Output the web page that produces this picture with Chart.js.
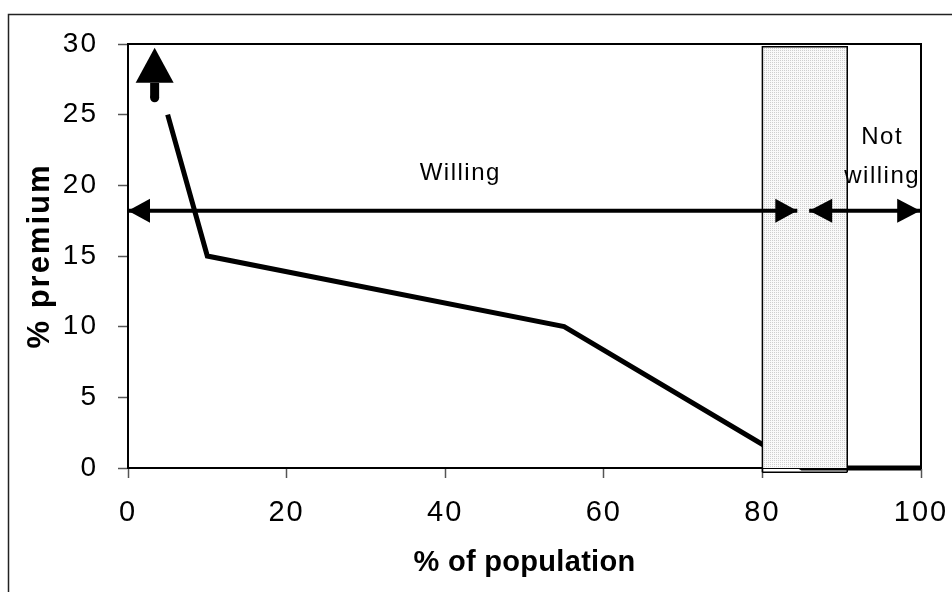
<!DOCTYPE html>
<html>
<head>
<meta charset="utf-8">
<script src="https://cdn.jsdelivr.net/npm/chart.js@4.4.1/dist/chart.umd.min.js"></script>
<style>
html, body { margin: 0; padding: 0; background: #fff; }
canvas { display: block; }
</style>
</head>
<body>
<canvas id="premiumChart" width="952" height="592"></canvas>
<script>
// values
const xTickValues = [0, 20, 40, 60, 80, 100];
const yTickValues = [0, 5, 10, 15, 20, 25, 30];
const curveX = [5, 10, 55, 85, 100];
const curveY = [25, 15, 10, 0, 0];
const boxX = [80, 80, 90.7, 90.7];
const boxY = [-0.3, 29.8, 29.8, -0.3];
const willingX = [0, 84.4];
const notWillingX = [85.9, 99.9];
const arrowY = [18.2, 18.2];
const upArrowX = [3.36, 3.36];
const upArrowY = [26.2, 27.25];

const FONT = 'Arial, "Liberation Sans", sans-serif';

function pts(xs, ys) {
	return xs.map((x, i) => ({ x: x, y: ys[i] }));
}

// light stipple for the grey band
const tile = document.createElement('canvas');
tile.width = 2;
tile.height = 2;
const tctx = tile.getContext('2d');
tctx.fillStyle = '#fafafa';
tctx.fillRect(0, 0, 2, 2);
tctx.fillStyle = '#cfcfcf';
tctx.fillRect(0, 0, 1, 1);
const stipple = tctx.createPattern(tile, 'repeat');

function drawHead(ctx, tx, ty, fx, fy, len, half) {
	const dx = tx - fx, dy = ty - fy;
	const d = Math.hypot(dx, dy);
	const ux = dx / d, uy = dy / d;
	const bx = tx - ux * len, by = ty - uy * len;
	ctx.beginPath();
	ctx.moveTo(tx, ty);
	ctx.lineTo(bx - uy * half, by + ux * half);
	ctx.lineTo(bx + uy * half, by - ux * half);
	ctx.closePath();
	ctx.fill();
}

// titles get their own letter spacing
function spacedTitle(s, spacing) {
	if (s._spaced) return;
	const orig = s.drawTitle;
	s.drawTitle = function() {
		const c = this.ctx;
		const prev = c.letterSpacing;
		c.letterSpacing = spacing;
		orig.call(this);
		c.letterSpacing = prev;
	};
	s._spaced = true;
}

const extras = {
	id: 'extras',
	beforeDraw(chart) {
		const ctx = chart.ctx;
		ctx.save();
		ctx.strokeStyle = '#222';
		ctx.lineWidth = 1.5;
		ctx.strokeRect(8.5, 14.5, 2000, 2000);
		ctx.restore();
		ctx.letterSpacing = '2px';
	},
	afterDatasetsDraw(chart, args, opts) {
		const ctx = chart.ctx;
		const xs = chart.scales.x, ys = chart.scales.y;
		ctx.save();
		ctx.fillStyle = '#000';
		chart.data.datasets.forEach((ds, i) => {
			if (!ds.heads) return;
			const p = chart.getDatasetMeta(i).data;
			const a = p[0], b = p[p.length - 1];
			if (ds.heads === 'ahead') {
				// head sits in front of the shaft end
				const d = Math.hypot(b.x - a.x, b.y - a.y);
				const tx = b.x + (b.x - a.x) / d * ds.headLen;
				const ty = b.y + (b.y - a.y) / d * ds.headLen;
				drawHead(ctx, tx, ty, a.x, a.y, ds.headLen, ds.headHalf);
			} else {
				drawHead(ctx, b.x, b.y, a.x, a.y, ds.headLen, ds.headHalf);
				if (ds.heads === 'both') drawHead(ctx, a.x, a.y, b.x, b.y, ds.headLen, ds.headHalf);
			}
			if (ds.roundStart) {
				ctx.beginPath();
				ctx.arc(a.x, a.y, ds.borderWidth / 2, 0, Math.PI * 2);
				ctx.fill();
			}
		});
		ctx.letterSpacing = '1.5px';
		ctx.font = '24px ' + FONT;
		ctx.textAlign = 'center';
		ctx.textBaseline = 'alphabetic';
		opts.notes.forEach(n => {
			ctx.fillText(n.text, xs.getPixelForValue(n.x), ys.getPixelForValue(n.y));
		});
		ctx.restore();
	},
	afterDraw(chart) {
		const ctx = chart.ctx;
		const a = chart.chartArea;
		ctx.save();
		ctx.strokeStyle = '#000';
		ctx.lineWidth = 2;
		ctx.beginPath();
		ctx.moveTo(a.left, a.top);
		ctx.lineTo(a.right, a.top);
		ctx.lineTo(a.right, a.bottom);
		ctx.stroke();
		ctx.restore();
	}
};

new Chart(document.getElementById('premiumChart'), {
	type: 'line',
	data: {
		datasets: [{
			// grey band
			data: pts(boxX, boxY),
			borderColor: '#000',
			borderWidth: 1.5,
			backgroundColor: stipple,
			fill: { value: -0.3 },
			pointRadius: 0,
			tension: 0,
			clip: 8,
			order: 0
		}, {
			// band base, just under the axis
			data: pts([boxX[0], boxX[3]], [boxY[0], boxY[3]]),
			borderColor: '#000',
			borderWidth: 1.5,
			pointRadius: 0,
			clip: 8,
			order: 0
		}, {
			data: pts(curveX, curveY),
			borderColor: '#000',
			borderWidth: 5,
			pointRadius: 0,
			tension: 0,
			borderJoinStyle: 'miter',
			clip: 4,
			order: 1
		}, {
			data: pts(willingX, arrowY),
			borderColor: '#000',
			borderWidth: 4,
			pointRadius: 0,
			heads: 'both',
			headLen: 22,
			headHalf: 12,
			order: -1
		}, {
			data: pts(notWillingX, arrowY),
			borderColor: '#000',
			borderWidth: 4,
			pointRadius: 0,
			heads: 'both',
			headLen: 23,
			headHalf: 12,
			order: -1
		}, {
			data: pts(upArrowX, upArrowY),
			borderColor: '#000',
			borderWidth: 9,
			pointRadius: 0,
			heads: 'ahead',
			headLen: 35,
			headHalf: 19,
			roundStart: true,
			clip: false,
			order: -1
		}]
	},
	options: {
		responsive: false,
		animation: false,
		layout: { padding: { left: 0, top: 44, right: 31, bottom: 0 } },
		plugins: {
			legend: { display: false },
			tooltip: { enabled: false },
			extras: {
				notes: [
					{ text: 'Willing', x: 41.9, y: 20.4 },
					{ text: 'Not', x: 95.1, y: 22.9 },
					{ text: 'willing', x: 95.1, y: 20.2 }
				]
			}
		},
		scales: {
			x: {
				type: 'linear',
				position: 'bottom',
				min: 0,
				max: 100,
				afterBuildTicks: s => { s.ticks = xTickValues.map(v => ({ value: v })); },
				afterFit: s => {
					s.height = 124;
					s.paddingLeft = 0;
					s.paddingRight = 0;
					spacedTitle(s, '0.3px');
				},
				grid: { drawOnChartArea: false, drawTicks: true, tickLength: 10, tickColor: '#555', tickWidth: 1.5 },
				border: { display: true, color: '#000', width: 2 },
				ticks: { color: '#000', font: { family: FONT, size: 29 }, padding: 18, maxRotation: 0, autoSkip: false },
				title: { display: true, text: '% of population', color: '#000', font: { family: FONT, size: 29, weight: 'bold' }, padding: { top: 0, bottom: 12 } }
			},
			y: {
				type: 'linear',
				min: 0,
				max: 30,
				afterBuildTicks: s => { s.ticks = yTickValues.map(v => ({ value: v })); },
				afterFit: s => { s.width = 128; spacedTitle(s, '2px'); },
				grid: { drawOnChartArea: false, drawTicks: true, tickLength: 10, tickColor: '#555', tickWidth: 1.5 },
				border: { display: true, color: '#000', width: 2 },
				ticks: { color: '#000', font: { family: FONT, size: 28 }, padding: 20 },
				title: { display: true, text: '% premium', color: '#000', font: { family: FONT, size: 31, weight: 'bold' }, padding: { top: 22, bottom: 0 } }
			}
		}
	},
	plugins: [extras]
});
</script>
</body>
</html>
